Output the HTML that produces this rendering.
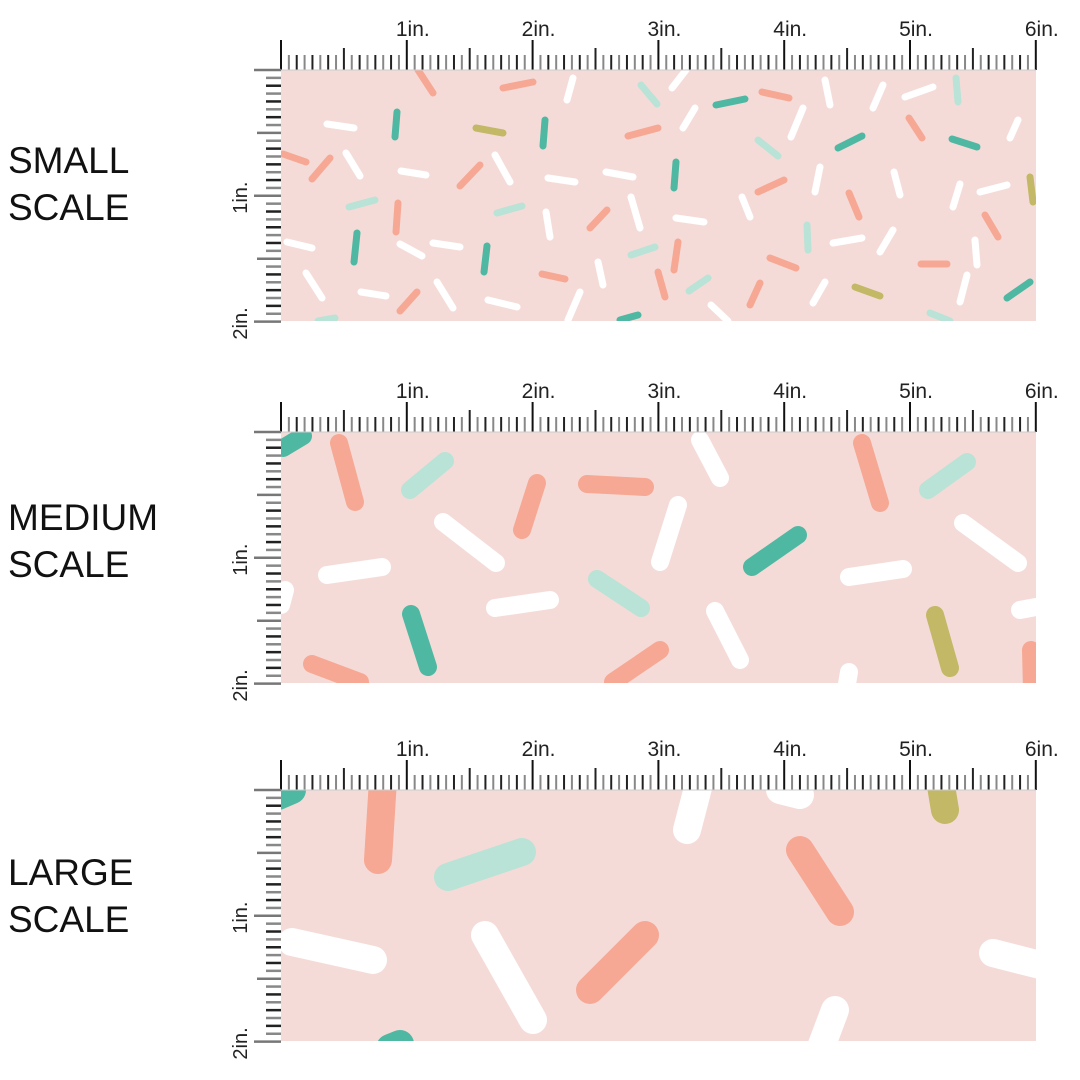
<!DOCTYPE html>
<html><head><meta charset="utf-8"><style>
html,body{margin:0;padding:0;background:#fff;width:1080px;height:1080px;overflow:hidden}
svg{display:block}
text{font-family:"Liberation Sans",sans-serif}
</style></head><body>
<svg id="s" width="1080" height="1080" xmlns="http://www.w3.org/2000/svg">
<g font-family="Liberation Sans, sans-serif" font-size="37" fill="#111">
<text x="8" y="173">SMALL</text><text x="8" y="220">SCALE</text>
<text x="8" y="530">MEDIUM</text><text x="8" y="577">SCALE</text>
<text x="8" y="885">LARGE</text><text x="8" y="932">SCALE</text>
</g>
</svg>
<script>
const S=document.getElementById('s'),NS='http://www.w3.org/2000/svg';
function el(t,a,p){const e=document.createElementNS(NS,t);for(const k in a)e.setAttribute(k,a[k]);(p||S).appendChild(e);return e;}
const C={s:'#f6a894',w:'#ffffff',m:'#b9e3d6',t:'#4fb8a3',o:'#c2b866'};
const panels=[70,432,790];
const X0=281,X1=1036,U=125.8;
const data=[
[7,[[418,70,433,93,'s'],[503,88,533,82,'s'],[573,78,567,100,'w'],[641,85,657,104,'m'],[686,70,672,88,'w'],[716,105,745,99,'t'],[762,92,789,98,'s'],[825,80,830,105,'w'],[883,85,873,108,'w'],[905,97,933,87,'w'],[956,78,958,102,'m'],[327,124,354,128,'w'],[397,112,395,137,'t'],[476,128,503,133,'o'],[545,120,543,146,'t'],[628,136,658,128,'s'],[695,108,683,128,'w'],[803,108,791,137,'w'],[758,140,778,156,'m'],[838,148,862,136,'t'],[909,118,922,138,'s'],[952,139,977,147,'t'],[1018,120,1010,138,'w'],[283,154,306,162,'s'],[330,158,312,179,'s'],[346,153,360,176,'w'],[401,171,426,175,'w'],[480,165,460,186,'s'],[495,155,510,182,'w'],[548,178,575,182,'w'],[606,172,633,177,'w'],[676,162,674,188,'t'],[758,192,784,180,'s'],[820,167,815,192,'w'],[849,193,859,217,'s'],[894,172,900,195,'w'],[960,184,953,207,'w'],[980,192,1007,185,'w'],[1030,177,1033,202,'o'],[349,207,375,200,'m'],[398,203,396,232,'s'],[497,213,522,206,'m'],[546,212,550,237,'w'],[607,210,590,228,'s'],[631,197,640,228,'w'],[676,218,704,222,'w'],[742,197,750,217,'w'],[807,225,808,250,'m'],[833,243,862,238,'w'],[893,230,880,252,'w'],[985,215,998,237,'s'],[287,242,312,248,'w'],[357,233,354,262,'t'],[400,244,422,256,'w'],[433,243,460,247,'w'],[487,246,484,272,'t'],[631,255,655,247,'m'],[678,242,674,270,'s'],[542,274,565,279,'s'],[658,272,665,297,'s'],[689,291,708,278,'m'],[770,258,796,268,'s'],[921,264,947,264,'s'],[975,240,977,265,'w'],[967,275,960,302,'w'],[306,273,322,298,'w'],[361,292,386,296,'w'],[417,292,400,311,'s'],[437,282,453,308,'w'],[488,300,517,307,'w'],[580,292,568,320,'w'],[598,262,603,285,'w'],[711,305,728,321,'w'],[760,283,750,305,'s'],[825,282,813,303,'w'],[855,287,880,296,'o'],[930,313,950,321,'m'],[1007,298,1030,282,'t'],[620,320,638,315,'t'],[318,321,335,318,'m']]],
[18,[[283,448,303,436,'t'],[339,443,355,502,'s'],[410,490,445,461,'m'],[537,483,522,530,'s'],[587,484,645,487,'s'],[700,440,720,478,'w'],[678,505,660,562,'w'],[443,522,496,563,'w'],[752,567,798,535,'t'],[862,443,880,503,'s'],[928,490,967,462,'m'],[963,523,1018,563,'w'],[327,575,382,567,'w'],[849,577,903,569,'w'],[597,579,641,608,'m'],[495,608,550,600,'w'],[285,590,281,605,'w'],[411,614,428,667,'t'],[715,611,740,660,'w'],[935,615,950,668,'o'],[1020,610,1036,607,'w'],[312,664,360,682,'s'],[613,682,660,650,'s'],[849,672,846,690,'w'],[1031,650,1032,690,'s']]],
[28,[[278,796,292,790,'t'],[383,780,378,860,'s'],[448,877,522,852,'m'],[700,780,687,830,'w'],[780,790,800,795,'w'],[940,780,945,810,'o'],[800,850,840,912,'s'],[292,942,373,960,'w'],[485,935,533,1020,'w'],[590,990,645,935,'s'],[993,953,1040,965,'w'],[835,1010,820,1050,'w'],[390,1048,400,1044,'t']]]
];
panels.forEach((Y,i)=>{
  const cid='c'+i;
  const cp=el('clipPath',{id:cid});el('rect',{x:X0,y:Y,width:X1-X0,height:251},cp);
  el('rect',{x:X0,y:Y,width:X1-X0,height:251,fill:'#f5dbd7'});
  const g=el('g',{'clip-path':'url(#'+cid+')'});
  const [sw,list]=data[i];
  list.forEach(d=>el('line',{x1:d[0],y1:d[1],x2:d[2],y2:d[3],stroke:C[d[4]],'stroke-width':sw,'stroke-linecap':'round'},g));
  for(let k=0;k<=96;k++){
    const x=X0+k*U/16;
    let top=Y-15,col=(k%2?'#888':'#222'),w=2;
    if(k%16==0){top=Y-30;col='#111';}
    else if(k%8==0){top=Y-22;col='#222';}
    el('line',{x1:x,y1:top,x2:x,y2:Y,stroke:col,'stroke-width':w});
  }
  el('line',{x1:X0,y1:Y,x2:X1,y2:Y,stroke:'#ccc','stroke-width':1});
  for(let n=1;n<=6;n++){
    const t=el('text',{x:X0+n*U+6,y:Y-34,'text-anchor':'middle','font-size':21,fill:'#222'});t.textContent=n+'in.';
  }
  for(let k=0;k<=32;k++){
    const y=Y+k*U/16;if(y>Y+252)break;
    let l=X0-15,col=(k%2?'#888':'#222');
    if(k%16==0){l=X0-27;col='#777';}
    else if(k%8==0){l=X0-24;col='#777';}
    el('line',{x1:l,y1:y,x2:X0,y2:y,stroke:col,'stroke-width':2.5});
  }
  for(let n=1;n<=2;n++){
    const yy=Y+n*U+18;
    const t=el('text',{x:0,y:0,transform:'translate(247,'+yy+') rotate(-90)','font-size':20,fill:'#222'});t.textContent=n+'in.';
  }
});
</script>
</body></html>
